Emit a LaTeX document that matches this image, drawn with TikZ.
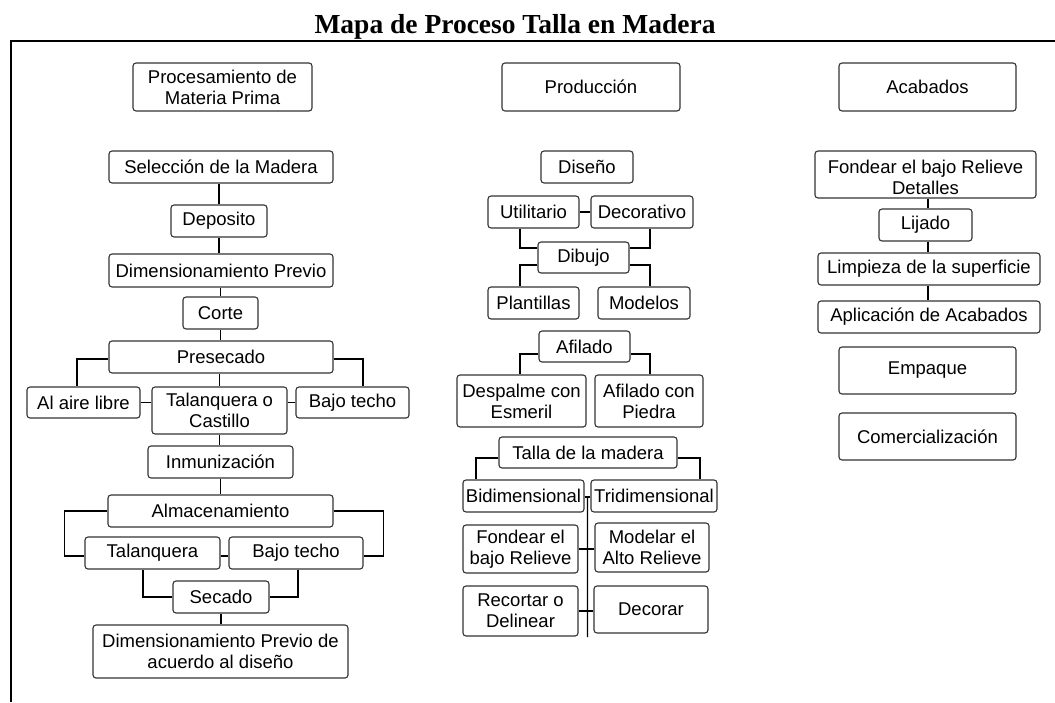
\documentclass[tikz,border=0pt]{standalone}
\usepackage{fontspec}
\setmainfont{Liberation Sans}
\newfontfamily\titlefont{Liberation Serif}
\usetikzlibrary{calc}
\tikzset{
  box/.style={draw=black!80, line width=1.1pt, rounded corners=3pt, fill=white,
    inner sep=1pt, align=center, font=\fontsize{18.5}{21}\selectfont},
  conn/.style={line width=1.4pt, black},
}
\begin{document}
\begin{tikzpicture}[x=1pt,y=-1pt]
\useasboundingbox (0,0) rectangle (1055,702);
\fill[white] (0,0) rectangle (1055,702);
% title and frame
\node[anchor=base, inner sep=0pt, font=\titlefont\bfseries\fontsize{27.5}{30}\selectfont] (title) at (515,33) {Mapa de Proceso Talla en Madera};
\draw[line width=1.5pt] (11,702) -- (11,41) -- (1055,41);

% ---------- left column ----------
\node[box, minimum width=179, minimum height=48] (pmp) at (222.5,87) {Procesamiento de\\Materia Prima};
\node[box, minimum width=224, minimum height=32] (sel) at (221,167) {Selección de la Madera};
\node[box, minimum width=96, minimum height=32] (dep) at (219,221) {Deposito};
\node[box, minimum width=224, minimum height=33] (dim) at (221,270.5) {Dimensionamiento Previo};
\node[box, minimum width=75, minimum height=32] (cor) at (220.5,313) {Corte};
\node[box, minimum width=224, minimum height=32] (pre) at (221,357) {Presecado};
\node[box, minimum width=113, minimum height=31] (aire) at (83.5,402.5) {Al aire libre};
\node[box, minimum width=135, minimum height=47] (tal) at (219.5,410.5) {Talanquera o\\Castillo};
\node[box, minimum width=113, minimum height=31] (bajo) at (352.5,402.5) {Bajo techo};
\node[box, minimum width=145, minimum height=32] (inm) at (220.5,462) {Inmunización};
\node[box, minimum width=225, minimum height=32] (alm) at (220.5,511) {Almacenamiento};
\node[box, minimum width=135, minimum height=32] (tal2) at (152.5,553) {Talanquera};
\node[box, minimum width=134, minimum height=32] (bajo2) at (296,553) {Bajo techo};
\node[box, minimum width=96, minimum height=32] (sec) at (221,597) {Secado};
\node[box, minimum width=255, minimum height=53] (dimf) at (220.5,651.5) {Dimensionamiento Previo de\\acuerdo al diseño};

\draw[conn] (sel.south -| dep.north) -- (dep.north);
\draw[conn] (dep.south) -- (dep.south |- dim.north);
\draw[conn] (cor.north |- dim.south) -- (cor.north);
\draw[conn] (cor.south) -- (cor.south |- pre.north);
\draw[conn] ($(pre.west)+(0,2)$) -| ($(aire.north)+(-6.5,0)$);
\draw[conn] ($(pre.east)+(0,2)$) -| ($(bajo.north)+(10.5,0)$);
\draw[conn] (tal.north |- pre.south) -- (tal.north);
\draw[conn] (aire.east) -- (aire.east -| tal.west);
\draw[conn] (bajo.west) -- (bajo.west -| tal.east);
\draw[conn] (tal.south) -- (tal.south |- inm.north);
\draw[conn] (inm.south) -- (inm.south |- alm.north);
\draw[conn] (alm.west) -- ++(-43,0) |- ($(tal2.west)+(0,3)$);
\draw[conn] (alm.east) -- ++(50,0) |- ($(bajo2.east)+(0,3)$);
\draw[conn] ($(tal2.east)+(0,3)$) -- ($(bajo2.west)+(0,3)$);
\draw[conn] ($(tal2.south)+(-9.5,0)$) |- (sec.west);
\draw[conn] ($(bajo2.south)+(2,0)$) |- (sec.east);
\draw[conn] (sec.south) -- (sec.south |- dimf.north);

% ---------- middle column ----------
\node[box, minimum width=178, minimum height=48] (prod) at (591,87) {Producción};
\node[box, minimum width=92, minimum height=32] (dis) at (587,167) {Diseño};
\node[box, minimum width=91, minimum height=32] (util) at (533.5,212) {Utilitario};
\node[box, minimum width=102, minimum height=32] (deco) at (642,212) {Decorativo};
\node[box, minimum width=91, minimum height=31] (dib) at (583.5,257.5) {Dibujo};
\node[box, minimum width=91, minimum height=32] (plan) at (533.5,303) {Plantillas};
\node[box, minimum width=92, minimum height=32] (mod) at (644,303) {Modelos};
\node[box, minimum width=91, minimum height=31] (afi) at (584.5,346.5) {Afilado};
\node[box, minimum width=129, minimum height=52] (desp) at (521.5,401) {Despalme con\\Esmeril};
\node[box, minimum width=108, minimum height=52] (afip) at (649,401) {Afilado con\\Piedra};
\node[box, minimum width=178, minimum height=31] (talla) at (588,452.5) {Talla de la madera};
\node[box, minimum width=121, minimum height=32] (bid) at (523.5,496) {Bidimensional};
\node[box, minimum width=126, minimum height=32] (trid) at (654,496) {Tridimensional};
\node[box, minimum width=115, minimum height=48] (fond) at (520.5,549) {Fondear el\\bajo Relieve};
\node[box, minimum width=114, minimum height=49] (modl) at (652,547.5) {Modelar el\\Alto Relieve};
\node[box, minimum width=115, minimum height=50] (reco) at (520.5,611) {Recortar o\\Delinear};
\node[box, minimum width=114, minimum height=47] (deco2) at (651,609.5) {Decorar};
\coordinate (spinebot) at (587.5,637);

\draw[conn] (util.east) -- (deco.west);
\draw[conn] ($(util.south)+(-13.5,0)$) |- ($(dib.west)+(0,-9.5)$);
\draw[conn] ($(deco.south)+(8,0)$) |- ($(dib.east)+(0,-9.5)$);
\draw[conn] ($(dib.west)+(0,7.5)$) -| ($(plan.north)+(-13.5,0)$);
\draw[conn] ($(dib.east)+(0,7.5)$) -| ($(mod.north)+(6,0)$);
\draw[conn] ($(afi.west)+(0,7.5)$) -| ($(desp.north)+(-1.5,0)$);
\draw[conn] ($(afi.east)+(0,7.5)$) -| ($(afip.north)+(1,0)$);
\draw[conn] ($(talla.west)+(0,5.5)$) -| ($(bid.north)+(-47.5,0)$);
\draw[conn] ($(talla.east)+(0,5.5)$) -| ($(trid.north)+(46,0)$);
\draw[conn] ($(bid.east)+(0,1)$) -- ($(trid.west)+(0,1)$);
\draw[conn] ($(bid.east)!0.5!(trid.west)+(0,1)$) -- (spinebot);
\draw[conn] (fond.east) -- (fond.east -| modl.west);
\draw[conn] (reco.east) -- (reco.east -| deco2.west);

% ---------- right column ----------
\node[box, minimum width=177, minimum height=48] (acab) at (927.5,87) {Acabados};
\node[box, minimum width=221, minimum height=47] (fondD) at (925.5,174.5) {};
\node[inner sep=0pt, align=center, font=\fontsize{18.5}{21}\selectfont] (fondDtext) at (925.5,177.5) {Fondear el bajo Relieve\\Detalles};
\node[box, minimum width=93, minimum height=32] (lij) at (925.5,225) {Lijado};
\node[box, minimum width=222, minimum height=32] (limp) at (929,269) {Limpieza de la superficie};
\node[box, minimum width=222, minimum height=32] (apl) at (929,317) {Aplicación de Acabados};
\node[box, minimum width=177, minimum height=47] (emp) at (927.5,370.5) {Empaque};
\node[box, minimum width=177, minimum height=47] (com) at (927.5,436.5) {Comercialización};

\draw[conn] ($(lij.north)+(2.5,0)$) -- ($(lij.north |- fondD.south)+(2.5,0)$);
\draw[conn] ($(lij.south)+(2.5,0)$) -- ($(lij.south |- limp.north)+(2.5,0)$);
\draw[conn] ($(limp.south)+(-1,0)$) -- ($(limp.south |- apl.north)+(-1,0)$);
\end{tikzpicture}
\end{document}
